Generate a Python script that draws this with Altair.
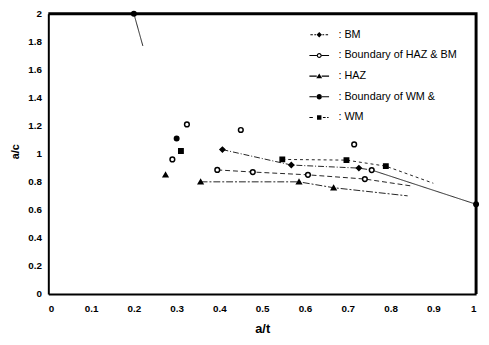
import altair as alt
import pandas as pd

SERIES = ["BM", "Boundary of HAZ & BM", "HAZ", "Boundary of WM &", "WM"]

# marker positions (a/t, a/c)
bm_x = [0.407, 0.568, 0.726]
bm_y = [1.03, 0.92, 0.898]
hb_x = [0.29, 0.324, 0.395, 0.45, 0.478, 0.607, 0.715, 0.74, 0.756]
hb_y = [0.96, 1.21, 0.885, 1.17, 0.87, 0.85, 1.067, 0.82, 0.884]
haz_x = [0.274, 0.356, 0.586, 0.667]
haz_y = [0.85, 0.80, 0.80, 0.758]
bwm_x = [0.20, 0.30, 1.0]
bwm_y = [2.0, 1.11, 0.64]
wm_x = [0.31, 0.547, 0.697, 0.789]
wm_y = [1.02, 0.96, 0.955, 0.912]

# connecting line paths: (series, segment, xs, ys)
line_paths = [
    ("BM", 1, [0.407, 0.568, 0.726, 0.756], [1.03, 0.92, 0.898, 0.884]),
    ("Boundary of HAZ & BM", 1, [0.395, 0.478, 0.607, 0.74, 0.85], [0.885, 0.87, 0.85, 0.82, 0.77]),
    ("HAZ", 1, [0.356, 0.586, 0.667, 0.84], [0.80, 0.80, 0.758, 0.70]),
    ("Boundary of WM &", 1, [0.20, 0.221], [2.0, 1.77]),
    ("Boundary of WM &", 2, [0.756, 1.0], [0.884, 0.64]),
    ("WM", 1, [0.547, 0.697, 0.789, 0.90], [0.96, 0.955, 0.912, 0.79]),
]

x_ticks = [0, 0.1, 0.2, 0.3, 0.4, 0.5, 0.6, 0.7, 0.8, 0.9, 1]
y_ticks = [0, 0.2, 0.4, 0.6, 0.8, 1, 1.2, 1.4, 1.6, 1.8, 2]

# plot frame edges (top and right) as a path in data units
frame_x = [0, 1, 1]
frame_y = [2, 2, 0]

rows = []
for name, xs, ys in [(SERIES[0], bm_x, bm_y), (SERIES[1], hb_x, hb_y), (SERIES[2], haz_x, haz_y),
                     (SERIES[3], bwm_x, bwm_y), (SERIES[4], wm_x, wm_y)]:
    for a, b in zip(xs, ys):
        rows.append({"x": a, "y": b, "series": name})
pts = pd.DataFrame(rows)

lrows = []
for name, seg, xs, ys in line_paths:
    for i, (a, b) in enumerate(zip(xs, ys)):
        lrows.append({"x": a, "y": b, "series": name, "seg": f"{name}-{seg}", "o": i})
lines = pd.DataFrame(lrows)

frame = pd.DataFrame({"x": frame_x, "y": frame_y, "o": list(range(len(frame_x)))})

FONT = "Liberation Sans"
W, H = 435, 285

xscale = alt.Scale(domain=[0, 1], nice=False)
yscale = alt.Scale(domain=[0, 2], nice=False)

xenc = alt.X("x:Q", scale=xscale,
             axis=alt.Axis(values=x_ticks, format="~g", ticks=False, grid=False,
                           domainColor="black", domainWidth=2,
                           labelFont=FONT, labelFontWeight="bold", labelFontSize=10,
                           labelColor="black", labelPadding=10,
                           title="a/t", titleFont=FONT, titleFontSize=13, titleFontWeight="bold",
                           titleColor="black", titleY=29))
yenc = alt.Y("y:Q", scale=yscale,
             axis=alt.Axis(values=y_ticks, format="~g", ticks=False, grid=False,
                           domainColor="black", domainWidth=2,
                           labelFont=FONT, labelFontWeight="bold", labelFontSize=10,
                           labelColor="black", labelPadding=7,
                           title="a/c", titleFont=FONT, titleFontSize=11, titleFontWeight="bold",
                           titleColor="black", titleX=-28, titleY=140))

frame_layer = alt.Chart(frame).mark_line(color="black", strokeWidth=3).encode(
    x=xenc, y=yenc, order="o:Q")

line_layer = alt.Chart(lines).mark_line(color="#222").encode(
    x=xenc, y=yenc,
    detail="seg:N",
    order="o:Q",
    strokeDash=alt.StrokeDash("series:N", scale=alt.Scale(
        domain=SERIES, range=[[6, 2, 1, 2], [5, 3], [7, 2, 2, 2], [1, 0], [3, 3]]), legend=None),
    strokeWidth=alt.StrokeWidth("series:N", scale=alt.Scale(
        domain=SERIES, range=[1, 1, 1, 1.8, 1]), legend=None),
)

point_layer = alt.Chart(pts).mark_point(filled=True, opacity=1, strokeWidth=1.5, color="black").encode(
    x=xenc, y=yenc,
    shape=alt.Shape("series:N", scale=alt.Scale(
        domain=SERIES, range=["diamond", "circle", "triangle-up", "circle", "square"]), legend=None),
    fill=alt.Fill("series:N", scale=alt.Scale(
        domain=SERIES, range=["black", "white", "black", "black", "black"]), legend=None),
    stroke=alt.value("black"),
    size=alt.Size("series:N", scale=alt.Scale(
        domain=SERIES, range=[24, 20, 26, 30, 18]), legend=None),
)

def stub(a, b):
    return f"M{a},-0.22H{b}V0.22H{a}Z"

ring = ("M-1,0A1,1 0 1,0 1,0A1,1 0 1,0 -1,0Z"
        "M-0.55,0A0.55,0.55 0 1,1 0.55,0A0.55,0.55 0 1,1 -0.55,0Z")
disc = "M-1.1,0A1.1,1.1 0 1,0 1.1,0A1.1,1.1 0 1,0 -1.1,0Z"
legend_paths = [
    stub(-3.6, -2.6) + stub(-2.0, -1.3) + stub(1.3, 2.0) + stub(2.6, 3.6) + "M0,-1.1L1.1,0L0,1.1L-1.1,0Z",
    stub(-4, -1) + stub(1, 4) + ring,
    stub(-4, -1) + stub(1, 4) + "M0,-1.1L1.2,0.9L-1.2,0.9Z",
    stub(-4, -1) + stub(1, 4) + disc,
    stub(-4, -2.6) + stub(1.5, 2.6) + stub(3.2, 3.8) + "M-0.9,-0.9H0.9V0.9H-0.9Z",
]

legend_layer = alt.Chart(pts).mark_point(filled=True, size=0, color="black").encode(
    x=xenc, y=yenc,
    shape=alt.Shape("series:N", scale=alt.Scale(domain=SERIES, range=legend_paths),
                    legend=alt.Legend(orient="none", legendX=270, legendY=16, title=None,
                                      labelExpr="': ' + datum.label",
                                      symbolSize=25, symbolFillColor="black",
                                      symbolStrokeWidth=0, symbolOpacity=1,
                                      labelOffset=14, rowPadding=9, padding=0,
                                      labelFont=FONT, labelFontSize=11, labelColor="black",
                                      labelLimit=300)),
)

chart = alt.layer(frame_layer, line_layer, point_layer, legend_layer).resolve_scale(
    shape="independent"
).properties(
    width=W, height=H,
    autosize=alt.AutoSizeParams(type="none"),
    padding={"left": 41, "top": 3, "right": 5, "bottom": 41},
).configure(
    background="white",
)

chart.save("out.html", embed_options={"renderer": "svg", "actions": False})
